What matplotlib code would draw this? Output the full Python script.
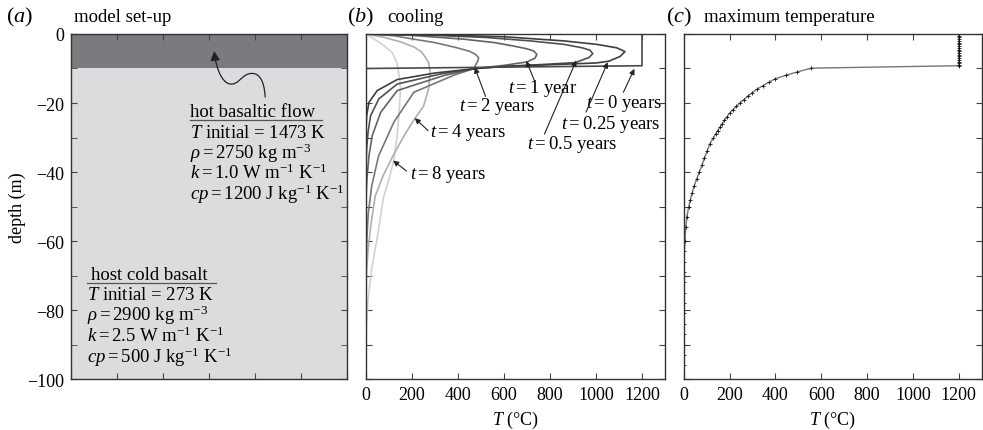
import matplotlib
matplotlib.use("Agg")
import matplotlib.pyplot as plt
from matplotlib.path import Path
from matplotlib.patches import FancyArrowPatch
from matplotlib.ticker import MultipleLocator, NullFormatter

plt.rcParams['font.family'] = 'Liberation Serif'
plt.rcParams['mathtext.fontset'] = 'custom'
plt.rcParams['mathtext.rm'] = 'Liberation Serif'
plt.rcParams['mathtext.it'] = 'Liberation Serif:italic'
plt.rcParams['axes.unicode_minus'] = True

# layers of the model (depth in m)
flow_top, flow_base = 0, -10
host_top, host_base = -10, -100

# cooling profiles : temperature (deg C) against depth (m)
T_0 = [1200, 1200, 0, 0]
z_0 = [0, -9.2, -10, -100]

T_025 = [0, 330, 600, 860, 1003, 1090, 1126, 1105, 1055, 1000, 800, 600, 480,
         300, 136, 49, 13, 3, 0, 0]
z_025 = [0, -0.3, -0.8, -2.0, -3.0, -4.0, -5.1, -6.5, -7.9, -8.4, -8.9, -9.4, -10,
         -11.3, -13.2, -16.4, -19.8, -23.7, -28, -100]

T_05 = [0, 300, 520, 714, 860, 940, 974, 986, 970, 930, 909, 750, 600, 478,
        330, 136, 56, 20, 9, 3, 0, 0]
z_05 = [0, -0.4, -1.0, -2.0, -3.0, -4.0, -4.7, -5.7, -6.8, -7.8, -8.3, -8.9, -9.4, -10,
        -11.5, -14.5, -18.8, -23.7, -28.5, -33, -38, -100]

T_1 = [0, 200, 425, 560, 642, 700, 729, 743, 735, 700, 600, 476,
       340, 136, 64, 27, 13, 4, 0, 0]
z_1 = [0, -0.4, -1.5, -2.5, -3.5, -4.3, -4.9, -5.9, -7.0, -8.1, -9.1, -10,
       -12, -16.4, -22.7, -29.5, -35.3, -42, -48, -100]

T_2 = [0, 120, 208, 300, 396, 450, 476, 490, 485, 474, 470,
       380, 208, 121, 55, 25, 10, 4, 0, 0]
z_2 = [0, -0.5, -1.5, -2.5, -4.0, -5.0, -5.9, -6.9, -8.0, -9.3, -10,
       -12, -16.9, -25.6, -35.3, -44, -52, -59, -66, -100]

T_4 = [0, 80, 156, 210, 243, 272, 279, 272, 250, 215, 170, 120, 75, 40, 22, 10, 3, 0, 0]
z_4 = [0, -1.0, -2.4, -3.8, -5.3, -8.2, -11.1, -15.9, -21.0, -24.2, -29, -35, -41,
       -47, -55, -62, -68, -73, -100]

T_8 = [0, 12, 69, 113, 134, 142, 148, 150, 145, 138, 121, 100, 75, 48, 25, 9, 2, 0, 0]
z_8 = [0, -0.5, -2.9, -5.3, -8.2, -11.1, -14, -16, -21.7, -28, -36.7, -42, -47.8,
       -59.4, -68, -77, -85, -92, -100]

profiles = [(T_8, z_8, '#d2d2d2'), (T_4, z_4, '#afafaf'), (T_2, z_2, '#777777'),
            (T_1, z_1, '#636363'), (T_05, z_05, '#505050'), (T_025, z_025, '#3e3e3e'),
            (T_0, z_0, '#4a4a4a')]

# maximum temperature reached at each node
maxT_flow_z = [0, -0.5, -1, -1.5, -2, -2.5, -3, -3.5, -4, -4.5, -5, -5.5, -6, -6.5,
               -7, -7.5, -8, -8.5, -9, -9.2]
maxT_flow_T = [1200] * len(maxT_flow_z)
maxT_host_z = [-9.9, -11, -12, -13, -14, -15, -16, -17, -18, -19, -20, -21, -22, -23,
               -24, -25, -26, -27, -28, -29, -30, -32, -34, -36, -38, -40, -42, -44,
               -46, -48, -50, -53, -56, -60, -63, -66, -69, -72, -75, -78, -81, -84,
               -87, -90, -93, -96, -100]
maxT_host_T = [557, 495, 445, 398, 372, 345, 320, 300, 280, 262, 245, 230, 213, 200,
               189, 178, 168, 158, 148, 139, 130, 113, 102, 90, 80, 68, 57, 46,
               37, 29, 22, 14, 9, 5, 3, 2, 2, 1, 1, 1, 0, 0, 0, 0, 0, 0, 0]

fs = 13.5      # annotations
fs_tick = 13
fig = plt.figure(figsize=(9.83, 4.31), dpi=100)
axa = fig.add_axes([0.0722, 0.1183, 0.2811, 0.8005])
axb = fig.add_axes([0.3723, 0.1183, 0.3042, 0.8005])
axc = fig.add_axes([0.6955, 0.1183, 0.3032, 0.8005])


def style(ax):
    for s in ax.spines.values():
        s.set_color('#333333')
        s.set_linewidth(1.0)
    ax.tick_params(which='both', direction='in', top=True, right=True,
                   color='#444444', labelsize=fs_tick, pad=5)
    ax.tick_params(which='major', length=4)
    ax.tick_params(which='minor', length=4)
    ax.set_ylim(-100, 0)


# (a) model set-up
style(axa)
axa.set_xlim(0, 6)
axa.fill_between([0, 6], flow_base, flow_top, color='#7a7b7f', lw=0)
axa.fill_between([0, 6], host_base, host_top, color='#dcdcde', lw=0)
axa.xaxis.set_major_locator(MultipleLocator(1))
axa.xaxis.set_major_formatter(NullFormatter())
axa.yaxis.set_major_locator(MultipleLocator(20))
axa.yaxis.set_minor_locator(MultipleLocator(10))
axa.set_ylabel('depth (m)', fontsize=fs_tick, labelpad=1)

hot = ['hot basaltic flow', r'$T$ initial = 1473 K', r'$\rho = 2750$ kg m$^{-3}$',
       r'$k = 1.0$ W m$^{-1}$ K$^{-1}$', r'$cp = 1200$ J kg$^{-1}$ K$^{-1}$']
hot_y = [0.763, 0.702, 0.641, 0.583, 0.522]
for s, y in zip(hot, hot_y):
    axa.text(0.431, y, s, transform=axa.transAxes, fontsize=fs, va='baseline')
axa.plot([0.431, 0.908], [0.752, 0.752], transform=axa.transAxes, color='#555555', lw=0.9)

cold = ['host cold basalt', r'$T$ initial = 273 K', r'$\rho = 2900$ kg m$^{-3}$',
        r'$k = 2.5$ W m$^{-1}$ K$^{-1}$', r'$cp = 500$ J kg$^{-1}$ K$^{-1}$']
cold_x = [0.072, 0.058, 0.058, 0.058, 0.058]
cold_y = [0.290, 0.232, 0.171, 0.110, 0.049]
for s, x, y in zip(cold, cold_x, cold_y):
    axa.text(x, y, s, transform=axa.transAxes, fontsize=fs, va='baseline')
axa.plot([0.058, 0.525], [0.279, 0.279], transform=axa.transAxes, color='#555555', lw=0.9)

# wavy arrow pointing at the flow
verts = [(4.217, -18.26), (4.196, -13.04), (4.065, -10.72), (3.848, -11.59),
         (3.674, -12.46), (3.630, -14.78), (3.457, -14.49),
         (3.283, -14.20), (3.152, -10.14), (3.109, -4.93)]
codes = [Path.MOVETO] + [Path.CURVE4] * 9
wavy = FancyArrowPatch(path=Path(verts, codes), arrowstyle='-|>', mutation_scale=14,
                       lw=0.9, color='#222222')
axa.add_patch(wavy)

# (b) cooling
style(axb)
for T, z, c in profiles:
    axb.plot(T, z, color=c, lw=1.2)
axb.set_xlim(0, 1300)
axb.xaxis.set_major_locator(MultipleLocator(200))
axb.yaxis.set_major_locator(MultipleLocator(10))
axb.yaxis.set_major_formatter(NullFormatter())
axb.set_xlabel(r'$T$ (°C)', fontsize=fs_tick, labelpad=4)

labels = [r'$t = 1$ year', r'$t = 2$ years', r'$t = 0$ years', r'$t = 0.25$ years',
          r'$t = 0.5$ years', r'$t = 4$ years', r'$t = 8$ years']
label_pos = [(616, -15.4), (405, -20.6), (956, -19.9), (846, -25.9),
             (700, -31.8), (278, -28.3), (191, -40.3)]
arrow_tip = [(697, -7.8), (473, -9.7), (1167, -10.1), (1051, -8.2),
             (914, -7.7), (212, -24.4), (118, -36.7)]
arrow_tail = [(733, -13.6), (520, -18.1), (1119, -16.9), (957, -22.6),
              (776, -29.0), (270, -28.0), (176, -39.7)]
for s, p, tip, tail in zip(labels, label_pos, arrow_tip, arrow_tail):
    axb.text(p[0], p[1], s, fontsize=fs, va='center', ha='left')
    axb.annotate('', xy=tip, xytext=tail,
                 arrowprops=dict(arrowstyle='-|>', lw=0.8, color='#222222',
                                 mutation_scale=8, shrinkA=0, shrinkB=0))

# (c) maximum temperature
style(axc)
axc.plot(maxT_flow_T + maxT_host_T, maxT_flow_z + maxT_host_z, color='#777777', lw=1.0,
         marker='+', ms=2.6, mec='#111111', mew=0.6)
axc.set_xlim(0, 1300)
axc.xaxis.set_major_locator(MultipleLocator(200))
axc.yaxis.set_major_locator(MultipleLocator(10))
axc.yaxis.set_major_formatter(NullFormatter())
axc.set_xlabel(r'$T$ (°C)', fontsize=fs_tick, labelpad=4)

# panel headings
ty = 1 - 17 / 431
fig.text(0.006, ty, '($a$)', fontsize=16, va='center')
fig.text(0.0753, ty, 'model set-up', fontsize=fs, va='center')
fig.text(0.353, ty, '($b$)', fontsize=16, va='center')
fig.text(0.394, ty, 'cooling', fontsize=fs, va='center')
fig.text(0.678, ty, '($c$)', fontsize=16, va='center')
fig.text(0.7165, ty, 'maximum temperature', fontsize=fs, va='center')

fig.savefig('out.png', dpi=100)
